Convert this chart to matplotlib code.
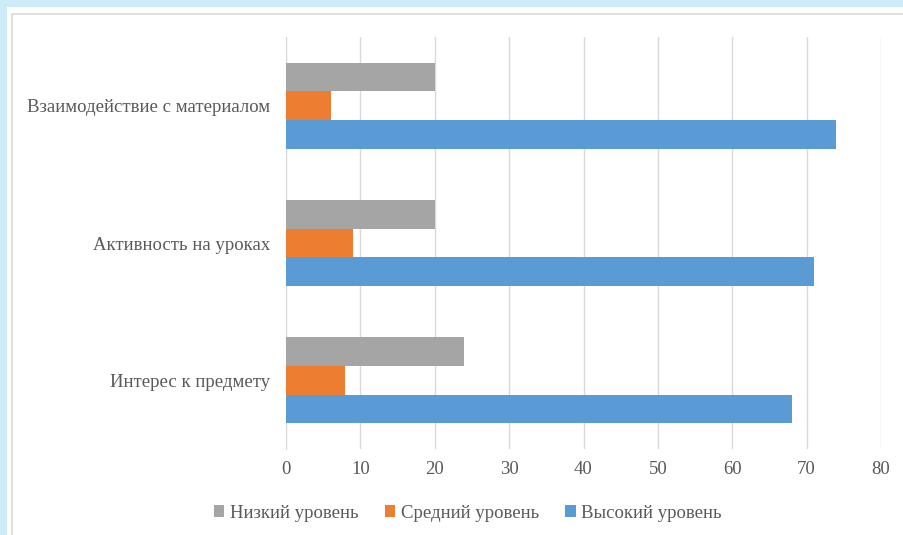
import matplotlib
matplotlib.use("Agg")
import matplotlib.pyplot as plt
from matplotlib.patches import Rectangle, Patch
import numpy as np

# Data
categories = ["Интерес к предмету", "Активность на уроках", "Взаимодействие с материалом"]
series_names = ["Низкий уровень", "Средний уровень", "Высокий уровень"]
low = [24, 20, 20]
mid = [8, 9, 6]
high = [68, 71, 74]
x_ticks = [0, 10, 20, 30, 40, 50, 60, 70, 80]

colors = ["#A5A5A5", "#ED7D31", "#5B9BD5"]
text_color = "#595959"
grid_color = "#D9D9D9"

plt.rcParams["font.family"] = ["Liberation Serif", "DejaVu Serif"]

W, H = 904, 535
fig = plt.figure(figsize=(W / 100, H / 100), dpi=100)
fig.patch.set_facecolor("#CDEBF8")

# white card with a thin gray frame
fig.patches.append(Rectangle((7 / W, 0), 1, 1 - 7 / H, transform=fig.transFigure,
                             facecolor="white", edgecolor="none", zorder=-2))
fig.patches.append(Rectangle((12 / W, -0.1), 1.2, 1 - 14 / H + 0.1, transform=fig.transFigure,
                             facecolor="none", edgecolor=grid_color, linewidth=1.2, zorder=-1))

ax = fig.add_axes([286 / W, 1 - 449 / H, (881 - 286) / W, (449 - 37) / H])
ax.set_zorder(2)
ax.set_facecolor("none")

y = np.arange(len(categories))
h = 0.208
ax.barh(y + h, low, height=h, color=colors[0], zorder=3)
ax.barh(y, mid, height=h, color=colors[1], zorder=3)
ax.barh(y - h, high, height=h, color=colors[2], zorder=3)

ax.set_xlim(0, 80)
ax.set_ylim(-0.5, len(categories) - 0.5)
ax.set_xticks(x_ticks)
ax.set_yticks(y)
ax.set_yticklabels(categories)
ax.xaxis.grid(True, color=grid_color, linewidth=1.0, zorder=0)
ax.set_axisbelow(True)
for s in ["top", "right", "bottom"]:
    ax.spines[s].set_visible(False)
ax.spines["left"].set_color(grid_color)
ax.tick_params(axis="both", length=0, labelsize=13.5, labelcolor=text_color)
ax.tick_params(axis="x", pad=8.5)
ax.tick_params(axis="y", pad=11.5)

handles = [Patch(facecolor=c, edgecolor="none") for c in colors]
leg = fig.legend(handles, series_names, loc="center", bbox_to_anchor=(468 / W, 1 - 513 / H),
                 ncol=3, frameon=False, fontsize=13.5, handlelength=0.55, handleheight=0.55,
                 handletextpad=0.3, columnspacing=1.4)
for t in leg.get_texts():
    t.set_color(text_color)

fig.savefig("out.png", dpi=100, facecolor=fig.get_facecolor())
